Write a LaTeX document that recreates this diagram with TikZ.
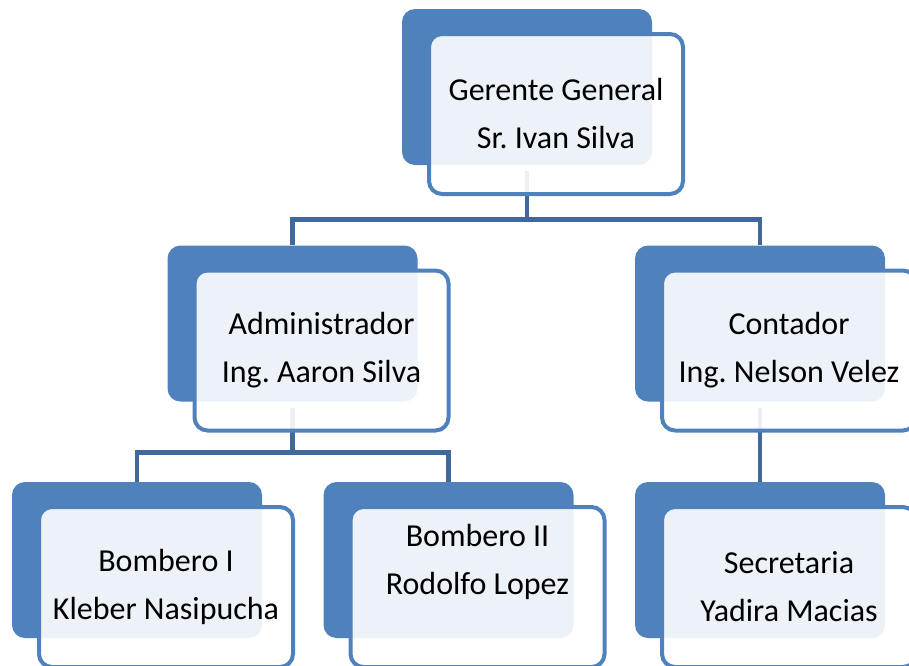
\documentclass[tikz,border=0pt]{standalone}
\usepackage{fontspec}
\setmainfont{Carlito}
\usepackage{tikz}
\frenchspacing
\definecolor{boxblue}{HTML}{4F81BD}
\definecolor{linkblue}{HTML}{41689B}
\tikzset{
 backbox/.style={rectangle,rounded corners=13pt,fill=boxblue,
  minimum width=250pt,minimum height=156pt,inner sep=0pt},
 frontbox/.style={rectangle,rounded corners=13pt,draw=boxblue,line width=4pt,
  fill=white,fill opacity=0.9,minimum width=254pt,minimum height=160pt,inner sep=0pt},
 boxtext/.style={align=center,text=black,font=\fontsize{32}{48}\selectfont},
 link/.style={draw=linkblue,line width=4.8pt}
}
% name/x/y/text raise/first line/second line
\def\units{gg/556/114/0/Gerente General/Sr. Ivan Silva,
 adm/321.5/350.5/0/Administrador/Ing. Aaron Silva,
 cont/789/350.5/0/Contador/Ing. Nelson Velez,
 bI/166/587/0/Bombero I/Kleber Nasipucha,
 bII/477.5/587/25/Bombero II/Rodolfo Lopez,
 sec/789/587/0/Secretaria/Yadira Macias}
\begin{document}
\begin{tikzpicture}[x=1pt,y=-1pt]
\useasboundingbox (0,0) rectangle (909,665);
\clip (0,0) rectangle (909,665);
% blue boxes behind
\foreach \n/\x/\y/\s/\a/\b in \units {
 \node[backbox] (\n b) at (\x-29,\y-27) {};
}
% links
\draw[link] ([yshift=-6pt]ggb.south) -- ++(0,48) coordinate (ggj) -| (admb.north);
\draw[link] (ggj) -| (contb.north);
\draw[link] ([yshift=-6pt]admb.south) -- ++(0,45) coordinate (admj) -| (bIb.north);
\draw[link] (admj) -| (bIIb.north);
\draw[link] ([yshift=-6pt]contb.south) -- (secb.north);
% light boxes in front
\foreach \n/\x/\y/\s/\a/\b in \units {
 \node[frontbox] (\n) at (\x,\y) {};
 \node[boxtext,yshift=\s pt] (\n t) at (\n) {\a\\\b};
}
\end{tikzpicture}
\end{document}
